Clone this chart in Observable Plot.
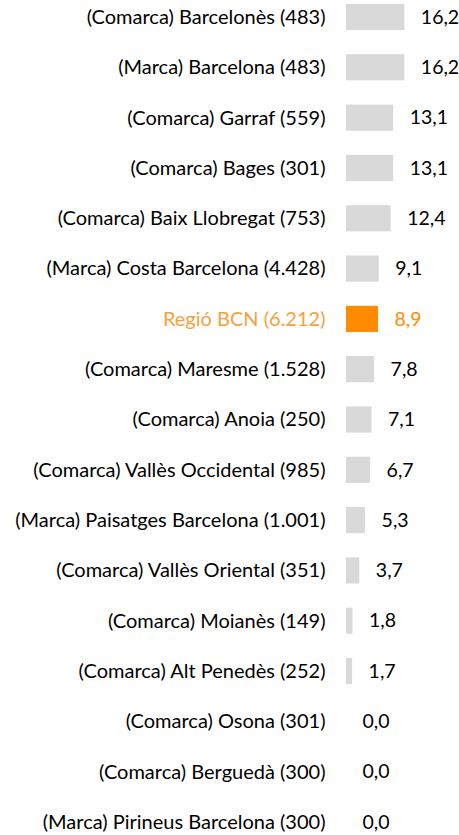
<!DOCTYPE html>
<html>
<head>
<meta charset="utf-8">
<script src="https://cdn.jsdelivr.net/npm/d3@7"></script>
<script src="https://cdn.jsdelivr.net/npm/@observablehq/plot@0.6"></script>
<style>
html,body{margin:0;padding:0;background:#fff;}
#chart svg{display:block;}
</style>
</head>
<body>
<div id="chart"></div>
<script>
const labels = [
  "(Comarca) Barcelonès (483)",
  "(Marca) Barcelona (483)",
  "(Comarca) Garraf (559)",
  "(Comarca) Bages (301)",
  "(Comarca) Baix Llobregat (753)",
  "(Marca) Costa Barcelona (4.428)",
  "Regió BCN (6.212)",
  "(Comarca) Maresme (1.528)",
  "(Comarca) Anoia (250)",
  "(Comarca) Vallès Occidental (985)",
  "(Marca) Paisatges Barcelona (1.001)",
  "(Comarca) Vallès Oriental (351)",
  "(Comarca) Moianès (149)",
  "(Comarca) Alt Penedès (252)",
  "(Comarca) Osona (301)",
  "(Comarca) Berguedà (300)",
  "(Marca) Pirineus Barcelona (300)"
];
const values = [16.2, 16.2, 13.1, 13.1, 12.4, 9.1, 8.9, 7.8, 7.1, 6.7, 5.3, 3.7, 1.8, 1.7, 0.0, 0.0, 0.0];
const highlight = "Regió BCN (6.212)";

const data = labels.map((l, i) => ({label: l, value: values[i], hi: l === highlight}));
const fmt = v => v.toFixed(1).replace(".", ",");

const chart = Plot.plot({
  width: 459,
  height: 835,
  marginLeft: 346,
  marginRight: 41,
  marginTop: 0,
  marginBottom: 0,
  style: {fontFamily: "Lato, sans-serif", fontSize: "20px", background: "#fff"},
  x: {domain: [0, 20], axis: null},
  y: {domain: labels, axis: null, paddingInner: 0.48, paddingOuter: 0.078, round: false, range: [0, 839]},
  marks: [
    Plot.barX(data, {x: "value", y: "label", fill: d => d.hi ? "#FF8C00" : "#D9D9D9"}),
    Plot.text(data, {x: 0, y: "label", text: "label", textAnchor: "end", dx: -21,
      fill: d => d.hi ? "#F7A040" : "#000", fontSize: 20}),
    Plot.text(data, {x: "value", y: "label", text: d => fmt(d.value), textAnchor: "start", dx: 16,
      fill: d => d.hi ? "#FF8C00" : "#000", fontSize: 19.5})
  ]
});
document.getElementById("chart").appendChild(chart);
</script>
</body>
</html>
